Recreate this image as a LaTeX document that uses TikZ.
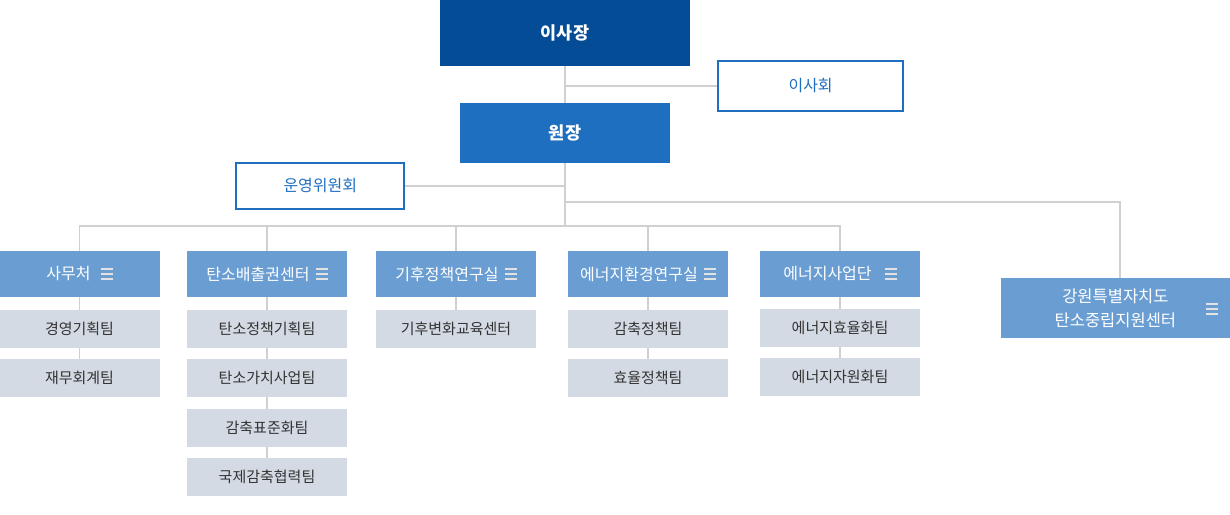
\documentclass[tikz,border=0pt]{standalone}
\usepackage{fontspec}
\setmainfont{Noto Sans CJK KR}
\definecolor{chairblue}{HTML}{044C96}
\definecolor{headblue}{HTML}{1F6FC1}
\definecolor{deptblue}{HTML}{6A9ED3}
\definecolor{teamgray}{HTML}{D3DAE3}
\definecolor{linegray}{HTML}{D0D0D0}
\definecolor{icongray}{HTML}{E2E2E2}
\definecolor{teamtext}{HTML}{333333}
\newcommand{\menuicon}{{\color{icongray}\vbox{\hrule width 12pt height 1.9pt\vskip 3.3pt\hrule width 12pt height 1.9pt\vskip 3.3pt\hrule width 12pt height 1.9pt}}}
\tikzset{
    conn/.style={draw=linegray, line width=1.5pt},
    topbox/.style={fill=#1, text=white, inner sep=0pt, font=\bfseries\fontsize{17.5}{20}\selectfont},
    linebox/.style={draw=headblue, line width=2pt, fill=white, text=headblue, inner sep=0pt, font=\fontsize{16}{19}\selectfont},
    deptbox/.style={fill=deptblue, text=white, inner sep=0pt, minimum width=160pt, minimum height=46pt, font=\fontsize{16}{19}\selectfont},
    teambox/.style={fill=teamgray, text=teamtext, inner sep=0pt, minimum width=160pt, minimum height=38pt, font=\fontsize{15}{18}\selectfont}
}
\begin{document}
\begin{tikzpicture}[x=1pt, y=-1pt]
    \useasboundingbox (0,0) rectangle (1230,514);
    \node[topbox=chairblue, minimum width=250pt, minimum height=66pt] (chair) at (565,33) {이사장};
    \node[topbox=headblue, minimum width=210pt, minimum height=60pt] (director) at (565,133) {원장};
    \node[linebox, minimum width=185pt, minimum height=50.6pt] (board) at (810.6,86) {이사회};
    \node[linebox, minimum width=168pt, minimum height=46.3pt] (committee) at (320.3,186) {운영위원회};
    \coordinate (split) at (565,202);
    \coordinate (branch) at (565,226);

    \node[deptbox] (office) at (79.5,274) {사무처\hspace{10pt}\menuicon};
    \node[deptbox] (carbon) at (267,274) {탄소배출권센터\hspace{6pt}\menuicon};
    \node[deptbox] (climate) at (456,274) {기후정책연구실\hspace{6pt}\menuicon};
    \node[deptbox] (envlab) at (648,274) {에너지환경연구실\hspace{6pt}\menuicon};
    \node[deptbox] (energy) at (840,274) {에너지사업단\hspace{13pt}\menuicon};
    \node[deptbox, minimum width=229.3pt, minimum height=59.4pt, align=center, font=\fontsize{16.5}{24}\selectfont] (gangwon) at (1115.4,308) {강원특별자치도\\탄소중립지원센터};
    \node (gangwonicon) at (1212,309) {\menuicon};

    \node[teambox] (office1) at (79.5,329) {경영기획팀};
    \node[teambox] (office2) at (79.5,378) {재무회계팀};
    \node[teambox] (carbon1) at (267,329) {탄소정책기획팀};
    \node[teambox] (carbon2) at (267,378) {탄소가치사업팀};
    \node[teambox] (carbon3) at (267,428) {감축표준화팀};
    \node[teambox] (carbon4) at (267,477) {국제감축협력팀};
    \node[teambox] (climate1) at (456,329) {기후변화교육센터};
    \node[teambox] (envlab1) at (648,329) {감축정책팀};
    \node[teambox] (envlab2) at (648,378) {효율정책팀};
    \node[teambox] (energy1) at (840,328) {에너지효율화팀};
    \node[teambox] (energy2) at (840,377) {에너지자원화팀};

    \draw[conn] (chair.south) -- (director.north);
    \draw[conn] (board.west) -- (board.west -| chair.south);
    \draw[conn] (director.south) -- (branch);
    \draw[conn] (committee.east) -- (committee.east -| director.south);
    \draw[conn] (split) -| ([xshift=4.6pt]gangwon.north);
    \draw[conn] (office.north) |- (branch) -| (energy.north);
    \draw[conn] (carbon.north) -- (carbon.north |- branch);
    \draw[conn] (climate.north) -- (climate.north |- branch);
    \draw[conn] (envlab.north) -- (envlab.north |- branch);

    \draw[conn] (office.south) -- (office1.north) (office1.south) -- (office2.north);
    \draw[conn] (carbon.south) -- (carbon1.north) (carbon1.south) -- (carbon2.north) (carbon2.south) -- (carbon3.north) (carbon3.south) -- (carbon4.north);
    \draw[conn] (climate.south) -- (climate1.north);
    \draw[conn] (envlab.south) -- (envlab1.north) (envlab1.south) -- (envlab2.north);
    \draw[conn] (energy.south) -- (energy1.north) (energy1.south) -- (energy2.north);
\end{tikzpicture}
\end{document}
